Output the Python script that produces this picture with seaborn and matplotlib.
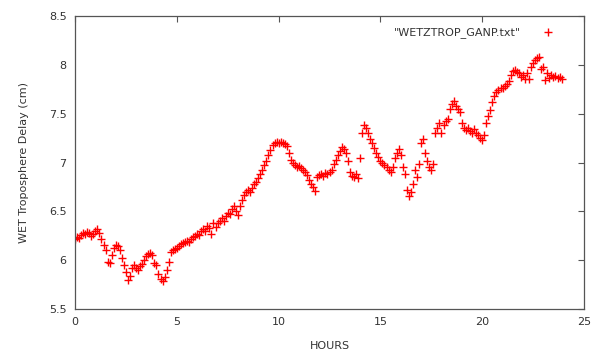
import numpy as np
import pandas as pd
import matplotlib
matplotlib.use("Agg")
import matplotlib.pyplot as plt
import seaborn as sns

# Wet tropospheric delay (cm), sampled every 0.1 h; one row per hour
delay_cm = [
    6.22, 6.24, 6.23, 6.26, 6.28, 6.27, 6.29, 6.28, 6.25, 6.27,
    6.30, 6.32, 6.28, 6.22, 6.16, 6.10, 5.98, 5.97, 6.05, 6.12,
    6.16, 6.15, 6.10, 6.02, 5.95, 5.88, 5.80, 5.84, 5.92, 5.95,
    5.92, 5.90, 5.94, 5.96, 6.00, 6.04, 6.06, 6.07, 6.05, 5.97,
    5.95, 5.86, 5.81, 5.79, 5.83, 5.90, 5.98, 6.08, 6.10, 6.11,
    6.12, 6.15, 6.17, 6.18, 6.19, 6.20, 6.19, 6.22, 6.24, 6.25,
    6.27, 6.26, 6.30, 6.32, 6.30, 6.35, 6.33, 6.27, 6.38, 6.34,
    6.38, 6.40, 6.43, 6.40, 6.45, 6.48, 6.47, 6.52, 6.55, 6.50,
    6.46, 6.55, 6.62, 6.67, 6.70, 6.72, 6.70, 6.74, 6.78, 6.80,
    6.84, 6.88, 6.92, 6.97, 7.02, 7.08, 7.13, 7.18, 7.20, 7.21,
    7.20, 7.21, 7.20, 7.19, 7.17, 7.10, 7.03, 7.00, 6.97, 6.95,
    6.96, 6.94, 6.92, 6.90, 6.87, 6.82, 6.78, 6.75, 6.71, 6.85,
    6.87, 6.88, 6.86, 6.89, 6.88, 6.90, 6.92, 6.98, 7.03, 7.08,
    7.12, 7.16, 7.14, 7.10, 7.02, 6.90, 6.86, 6.85, 6.88, 6.84,
    7.05, 7.30, 7.38, 7.35, 7.30, 7.24, 7.20, 7.15, 7.10, 7.06,
    7.02, 7.00, 6.97, 6.95, 6.92, 6.90, 6.95, 7.05, 7.10, 7.14,
    7.08, 6.95, 6.88, 6.72, 6.66, 6.70, 6.78, 6.92, 6.85, 6.98,
    7.20, 7.24, 7.10, 7.02, 6.95, 6.92, 6.98, 7.30, 7.35, 7.40,
    7.30, 7.38, 7.42, 7.45, 7.55, 7.60, 7.63, 7.58, 7.55, 7.52,
    7.40, 7.35, 7.33, 7.35, 7.32, 7.30, 7.34, 7.30, 7.28, 7.25,
    7.23, 7.28, 7.40, 7.48, 7.54, 7.62, 7.68, 7.72, 7.74, 7.76,
    7.76, 7.78, 7.80, 7.83, 7.90, 7.94, 7.95, 7.93, 7.92, 7.88,
    7.90, 7.85, 7.92, 7.86, 7.98, 8.02, 8.05, 8.07, 8.08, 7.96,
    7.98, 7.84, 7.92, 7.87, 7.90, 7.88, 7.89, 7.87, 7.88, 7.86,
]
hours = [round(i * 0.1, 1) for i in range(len(delay_cm))]

x_ticks = [0, 5, 10, 15, 20, 25]
y_ticks = [5.5, 6, 6.5, 7, 7.5, 8, 8.5]
y_tick_labels = ["5.5", "6", "6.5", "7", "7.5", "8", "8.5"]
series_label = '"WETZTROP_GANP.txt"'

df = pd.DataFrame({"HOURS": hours, "delay": delay_cm})

sns.set_style("white")
plt.rcParams["font.family"] = ["DejaVu Sans"]

fig = plt.figure(figsize=(6.06, 3.62), dpi=100)
ax = fig.add_axes([0.1238, 0.1464, 0.8399, 0.8094])

sns.scatterplot(data=df, x="HOURS", y="delay", marker="+", color="#ff0000",
                s=26, linewidth=1.0, ax=ax, label=series_label)

ax.set_xlim(0, 25)
ax.set_ylim(5.5, 8.5)
ax.set_xticks(x_ticks)
ax.set_yticks(y_ticks)
ax.set_yticklabels(y_tick_labels)
ax.tick_params(direction="in", length=4, width=0.8, colors="#555555",
               labelcolor="#333333", labelsize=8, top=True, right=True,
               pad=6)
for sp in ax.spines.values():
    sp.set_color("#555555")
    sp.set_linewidth(0.9)

ax.set_xlabel("HOURS", fontsize=8, color="#333333", labelpad=10)
ax.set_ylabel("WET Troposphere Delay (cm)", fontsize=8, color="#333333",
              labelpad=14)

leg = ax.legend(loc="upper right", frameon=False, markerfirst=False,
                fontsize=8, handletextpad=1.4, borderaxespad=0.6,
                bbox_to_anchor=(0.972, 1.0))
for t in leg.get_texts():
    t.set_color("#333333")

fig.savefig("out.png", dpi=100)
